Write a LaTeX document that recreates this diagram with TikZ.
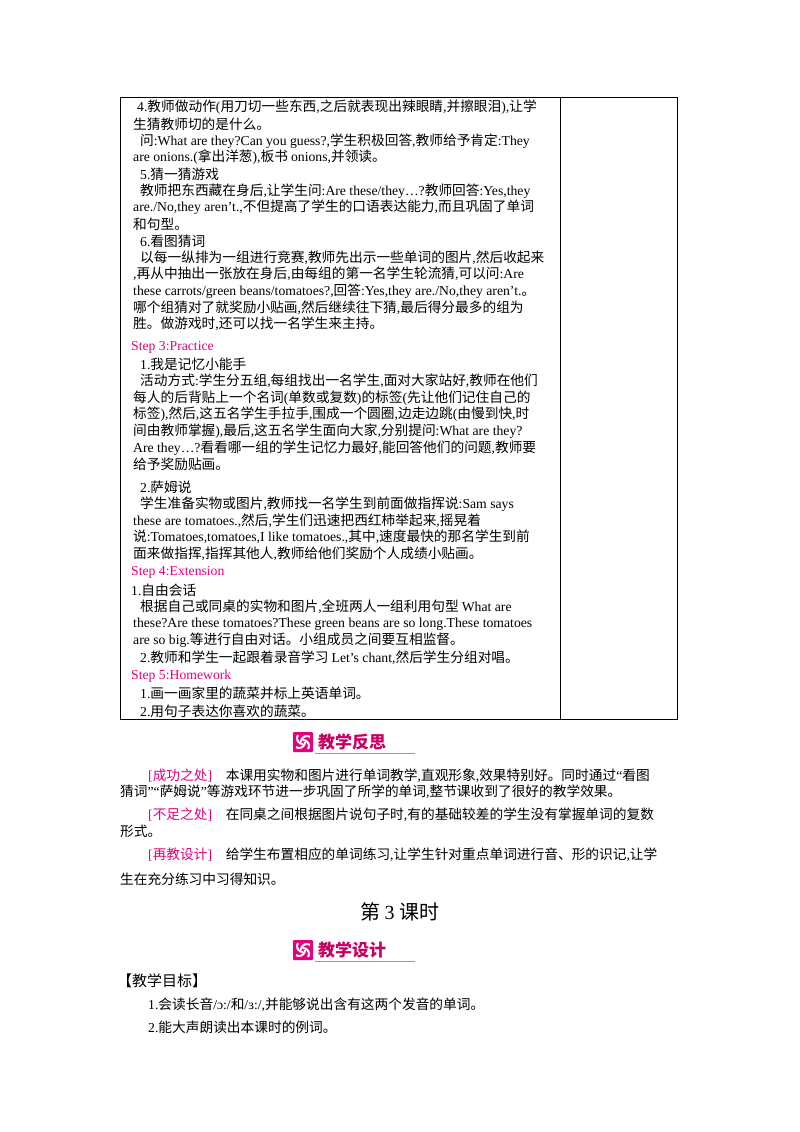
\documentclass[tikz,border=0pt]{standalone}
\usepackage{fontspec}
\setmainfont{Liberation Serif}
\newfontfamily\cjk{Noto Sans CJK SC}
\newfontfamily\cjkb{Noto Sans CJK SC Black}
\def\cjkcur{\cjk}
\XeTeXinterchartokenstate=1
\newXeTeXintercharclass\cjkclass
\count255="4E00 \loop\XeTeXcharclass\count255=\cjkclass\ifnum\count255<"9FFF\advance\count255 1\repeat
\count255="3000 \loop\XeTeXcharclass\count255=\cjkclass\ifnum\count255<"303F\advance\count255 1\repeat
\count255="FF00 \loop\XeTeXcharclass\count255=\cjkclass\ifnum\count255<"FFEF\advance\count255 1\repeat
\XeTeXinterchartoks 0 \cjkclass {\cjkcur}
\XeTeXinterchartoks 4095 \cjkclass {\cjkcur}
\XeTeXinterchartoks \cjkclass 0 {\rmfamily}
\XeTeXinterchartoks 4095 0 {\rmfamily}
\definecolor{mag}{RGB}{228,0,127}
\definecolor{hd}{RGB}{200,0,100}
\tikzset{ln/.style={anchor=west,inner sep=0pt,font=\fontsize{13.7}{13.7}\selectfont}}
\newcommand\T[3]{\node[ln] at (#1,#2) {#3};}
\newcommand\hdr[3]{%
 \fill[mag,rounded corners=1pt] (#1,#2-10) rectangle (#1+20,#2+10);
 \foreach \a in {0,90,180,270}{\draw[white,line width=2pt] (#1+10,#2) ++(\a:2) arc[start angle=\a,end angle=\a+120,radius=6];}
 \node[anchor=west,inner sep=0pt,text=hd] at (#1+25,#2) {\def\cjkcur{\cjkb}\fontsize{17}{17}\selectfont #3};
 \draw[mag!60,line width=0.8pt] (#1+22,#2+11) -- (#1+122,#2+11);}
\begin{document}
\begin{tikzpicture}[x=1pt,y=-1pt]
\useasboundingbox (0,0) rectangle (800,1132);
\fill[white] (0,0) rectangle (800,1132);
\draw[line width=0.9pt] (120,97) rectangle (677,719);
\draw[line width=0.9pt] (560,97) -- (560,719);
\T{137}{107}{4.教师做动作(用刀切一些东西,之后就表现出辣眼睛,并擦眼泪),让学}
\T{133}{124}{生猜教师切的是什么。}
\T{140}{141}{问:What are they?Can you guess?,学生积极回答,教师给予肯定:They}
\T{133}{157}{are onions.(拿出洋葱),板书 onions,并领读。}
\T{140}{174}{5.猜一猜游戏}
\T{140}{191}{教师把东西藏在身后,让学生问:Are these/they…?教师回答:Yes,they}
\T{133}{207}{are./No,they aren’t.,不但提高了学生的口语表达能力,而且巩固了单词}
\T{133}{224}{和句型。}
\T{140}{241}{6.看图猜词}
\T{140}{258}{以每一纵排为一组进行竞赛,教师先出示一些单词的图片,然后收起来}
\T{133}{274}{,再从中抽出一张放在身后,由每组的第一名学生轮流猜,可以问:Are}
\T{133}{291}{these carrots/green beans/tomatoes?,回答:Yes,they are./No,they aren’t.。}
\T{133}{308}{哪个组猜对了就奖励小贴画,然后继续往下猜,最后得分最多的组为}
\T{133}{324}{胜。做游戏时,还可以找一名学生来主持。}
\T{131}{347}{\textcolor{mag}{Step 3:Practice}}
\T{140}{364}{1.我是记忆小能手}
\T{140}{381}{活动方式:学生分五组,每组找出一名学生,面对大家站好,教师在他们}
\T{133}{398}{每人的后背贴上一个名词(单数或复数)的标签(先让他们记住自己的}
\T{133}{414}{标签),然后,这五名学生手拉手,围成一个圆圈,边走边跳(由慢到快,时}
\T{133}{431}{间由教师掌握),最后,这五名学生面向大家,分别提问:What are they?}
\T{133}{448}{Are they…?看看哪一组的学生记忆力最好,能回答他们的问题,教师要}
\T{133}{464}{给予奖励贴画。}
\T{140}{487}{2.萨姆说}
\T{140}{504}{学生准备实物或图片,教师找一名学生到前面做指挥说:Sam says}
\T{133}{521}{these are tomatoes.,然后,学生们迅速把西红柿举起来,摇晃着}
\T{133}{537}{说:Tomatoes,tomatoes,I like tomatoes.,其中,速度最快的那名学生到前}
\T{133}{554}{面来做指挥,指挥其他人,教师给他们奖励个人成绩小贴画。}
\T{131}{572}{\textcolor{mag}{Step 4:Extension}}
\T{131}{590}{1.自由会话}
\T{140}{607}{根据自己或同桌的实物和图片,全班两人一组利用句型 What are}
\T{133}{624}{these?Are these tomatoes?These green beans are so long.These tomatoes}
\T{133}{640}{are so big.等进行自由对话。小组成员之间要互相监督。}
\T{140}{658}{2.教师和学生一起跟着录音学习 Let’s chant,然后学生分组对唱。}
\T{131}{676}{\textcolor{mag}{Step 5:Homework}}
\T{140}{693}{1.画一画家里的蔬菜并标上英语单词。}
\T{140}{711}{2.用句子表达你喜欢的蔬菜。}
\hdr{293}{742}{教学反思}
\T{148}{776}{\textcolor{mag}{[成功之处]}\quad 本课用实物和图片进行单词教学,直观形象,效果特别好。同时通过“看图}
\T{120}{792}{猜词”“萨姆说”等游戏环节进一步巩固了所学的单词,整节课收到了很好的教学效果。}
\T{148}{815}{\textcolor{mag}{[不足之处]}\quad 在同桌之间根据图片说句子时,有的基础较差的学生没有掌握单词的复数}
\T{120}{831}{形式。}
\T{148}{855}{\textcolor{mag}{[再教设计]}\quad 给学生布置相应的单词练习,让学生针对重点单词进行音、形的识记,让学}
\T{120}{879}{生在充分练习中习得知识。}
\node[inner sep=0pt,font=\fontsize{20}{20}\selectfont] (title) at (400,912) {第 3 课时};
\hdr{293}{950}{教学设计}
\node[ln,font=\fontsize{15}{15}\selectfont] (goal) at (117,981) {【教学目标】};
\T{148}{1005}{1.会读长音/ɔ:/和/ɜ:/,并能够说出含有这两个发音的单词。}
\T{148}{1027}{2.能大声朗读出本课时的例词。}
\end{tikzpicture}
\end{document}
